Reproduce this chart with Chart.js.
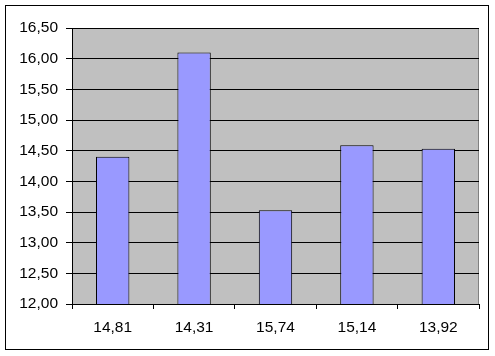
<!DOCTYPE html>
<html lang="en">
<head>
    <meta charset="UTF-8">
    <title>Bar chart</title>
    <script src="https://cdn.jsdelivr.net/npm/chart.js"></script>
    <style>
      body { margin: 0; background: #fff; }
      canvas { display: block; }
    </style>
</head>
<body>
    <canvas id="myChart" width="495" height="356"></canvas>

    <script>
    // data
    const categories = ['14,81', '14,31', '15,74', '15,14', '13,92'];
    const values = [14.40, 16.10, 13.53, 14.59, 14.53];
    const yMin = 12, yMax = 16.5, yStep = 0.5;

    const fontFamily = 'Arial, "Liberation Sans", sans-serif';

    // outer frame + grey plot background, Excel-style
    const framePlugin = {
        id: 'frame',
        beforeDraw(chart) {
            const ctx = chart.ctx;
            const a = chart.chartArea;
            ctx.save();
            ctx.fillStyle = '#fff';
            ctx.fillRect(0, 0, chart.width, chart.height);
            ctx.strokeStyle = '#000';
            ctx.lineWidth = 1;
            ctx.strokeRect(5.5, 5.5, 483, 344);
            ctx.fillStyle = '#c0c0c0';
            ctx.fillRect(a.left, a.top, a.right - a.left, a.bottom - a.top);
            ctx.strokeStyle = '#808080';
            ctx.beginPath();
            ctx.moveTo(a.left, a.top + 0.5);
            ctx.lineTo(a.right - 0.5, a.top + 0.5);
            ctx.lineTo(a.right - 0.5, a.bottom);
            ctx.stroke();
            ctx.restore();
        }
    };

    const ctx = document.getElementById('myChart').getContext('2d');
    new Chart(ctx, {
        type: 'bar',
        data: {
            labels: categories,
            datasets: [{
                data: values,
                backgroundColor: '#9999ff',
                borderColor: '#000',
                borderWidth: 1,
                borderSkipped: false,
                categoryPercentage: 1,
                barPercentage: 0.41
            }]
        },
        options: {
            responsive: false,
            animation: false,
            layout: { padding: { top: 28, right: 16, left: 0, bottom: 0 } },
            plugins: {
                legend: { display: false },
                tooltip: { enabled: false }
            },
            scales: {
                x: {
                    afterFit(scale) { scale.height = 52; },
                    grid: {
                        offset: true,
                        drawOnChartArea: false,
                        drawTicks: true,
                        tickLength: 5,
                        color: '#000'
                    },
                    border: { color: '#000', width: 1 },
                    ticks: {
                        color: '#000',
                        padding: 9,
                        font: { family: fontFamily, size: 15.5 }
                    }
                },
                y: {
                    min: yMin,
                    max: yMax,
                    afterFit(scale) { scale.width = 72; },
                    grid: {
                        color: '#000',
                        tickLength: 6,
                        drawTicks: true
                    },
                    border: { color: '#000', width: 1 },
                    ticks: {
                        stepSize: yStep,
                        color: '#000',
                        padding: 8,
                        font: { family: fontFamily, size: 15.5 },
                        callback: v => v.toFixed(2).replace('.', ',')
                    }
                }
            }
        },
        plugins: [framePlugin]
    });
    </script>
</body>
</html>
